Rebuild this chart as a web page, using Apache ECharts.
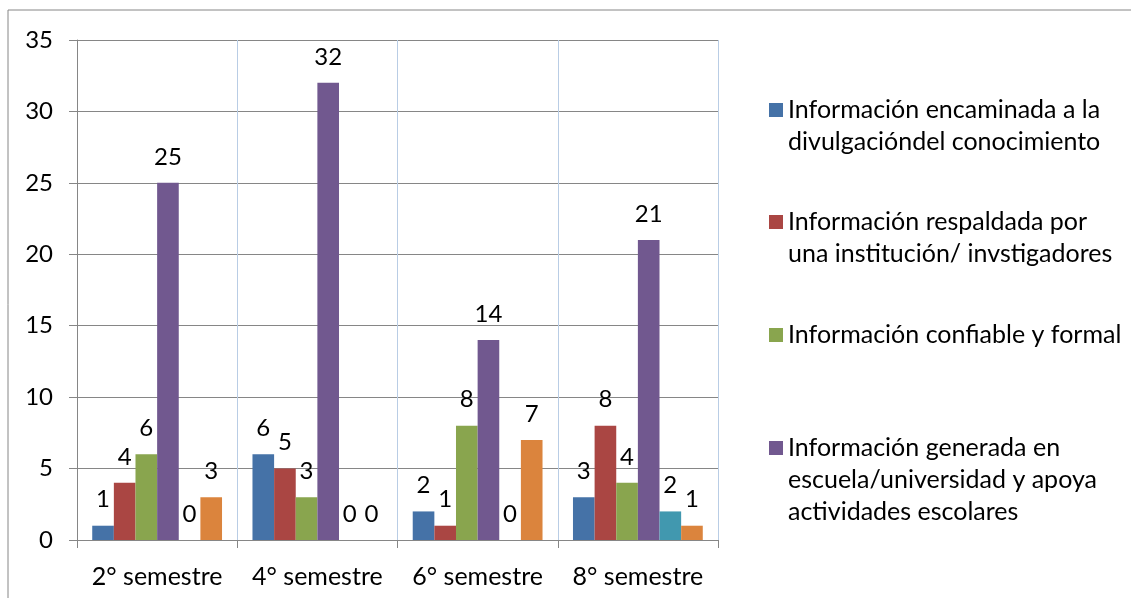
<!DOCTYPE html>
<html>
<head>
<meta charset="utf-8">
<script src="https://cdn.jsdelivr.net/npm/echarts@6/dist/echarts.min.js"></script>
<style>
  html, body { margin: 0; padding: 0; background: #fff; }
  #chart { width: 1131px; height: 598px; }
</style>
</head>
<body>
<div id="chart"></div>
<script>
// categorías del eje x
const semestres = ['2° semestre', '4° semestre', '6° semestre', '8° semestre']
// nombres de las series (las dos últimas no aparecen en la leyenda)
const nombres = [
  'Información encaminada a la\ndivulgacióndel conocimiento',
  'Información respaldada por\nuna institución/ invstigadores',
  'Información confiable y formal',
  'Información generada en\nescuela/universidad y apoya\nactividades escolares',
  'Serie 5',
  'Serie 6'
]
// valores por serie
const divulgacion = [1, 6, 2, 3]
const respaldada = [4, 5, 1, 8]
const confiable = [6, 3, 8, 4]
const generada = [25, 32, 14, 21]
const serie5 = [0, 0, 0, 2]
const serie6 = [3, 0, 7, 1]
const valores = [divulgacion, respaldada, confiable, generada, serie5, serie6]
const yTicks = [0, 5, 10, 15, 20, 25, 30, 35]

const colores = ['#4572A7', '#AA4643', '#89A54E', '#71588F', '#4198AF', '#DB843D']
const fuente = 'Lato'

const chart = echarts.init(document.getElementById('chart'))

const series = valores.map((arr, i) => ({
  name: nombres[i],
  type: 'bar',
  data: arr,
  barGap: '0%',
  barCategoryGap: '19%',
  itemStyle: { color: colores[i] },
  label: {
    show: true,
    position: 'top',
    distance: 14,
    color: '#000',
    fontFamily: fuente,
    fontSize: 24
  }
}))

// una leyenda por entrada para que el cuadro quede a la altura de la primera línea
const legendTops = [89, 201, 314, 427]
const legends = legendTops.map((top, i) => {
  const lineas = nombres[i].split('\n').length
  return {
    data: [nombres[i]],
    left: 764,
    top: top - (lineas - 1) * 32,
    orient: 'vertical',
    icon: 'rect',
    itemWidth: 14,
    itemHeight: 14,
    itemGap: 0,
    selectedMode: false,
    formatter: name => '\n'.repeat(name.split('\n').length - 1) + name,
    textStyle: {
      color: '#000',
      fontFamily: fuente,
      fontSize: 25,
      lineHeight: 32
    }
  }
})

const option = {
  animation: false,
  backgroundColor: '#fff',
  graphic: [{
    type: 'rect',
    shape: { x: 8, y: 10, width: 1140, height: 600 },
    style: { fill: 'none', stroke: '#868686', lineWidth: 1 },
    silent: true
  }],
  legend: legends,
  grid: { left: 77, right: 413, top: 40, bottom: 58 },
  xAxis: {
    type: 'category',
    data: semestres,
    axisLine: { lineStyle: { color: '#868686' } },
    axisTick: { show: true, interval: 0, length: 8, lineStyle: { color: '#868686' } },
    axisLabel: { interval: 0, color: '#000', fontFamily: fuente, fontSize: 25, margin: 24 },
    splitLine: { show: true, interval: 0, lineStyle: { color: '#B9CDE5', width: 1 } }
  },
  yAxis: {
    type: 'value',
    min: yTicks[0],
    max: yTicks[yTicks.length - 1],
    interval: 5,
    axisLine: { show: true, lineStyle: { color: '#868686' } },
    axisTick: { show: true, length: 8, lineStyle: { color: '#868686' } },
    axisLabel: { color: '#000', fontFamily: fuente, fontSize: 24, margin: 24 },
    splitLine: { show: true, lineStyle: { color: '#868686', width: 1 } }
  },
  series: series
}

chart.setOption(option)
</script>
</body>
</html>
